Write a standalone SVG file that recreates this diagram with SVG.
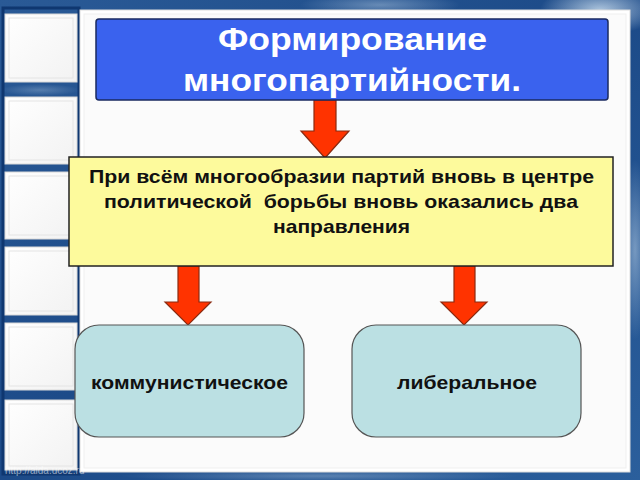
<svg xmlns="http://www.w3.org/2000/svg" width="640" height="480" viewBox="0 0 640 480">
<defs>
<linearGradient id="bg" x1="0" y1="0" x2="1" y2="1">
<stop offset="0" stop-color="#2a5a96"/>
<stop offset="0.5" stop-color="#1c4a88"/>
<stop offset="1" stop-color="#2b5f9c"/>
</linearGradient>
<radialGradient id="splash" cx="0.5" cy="0.5" r="0.5">
<stop offset="0" stop-color="#cfe2f2" stop-opacity="0.8"/>
<stop offset="1" stop-color="#cfe2f2" stop-opacity="0"/>
</radialGradient>
<linearGradient id="sq" x1="0" y1="0" x2="1" y2="1">
<stop offset="0" stop-color="#ffffff"/>
<stop offset="1" stop-color="#f2f2f2"/>
</linearGradient>
</defs>
<style>
.sq{fill:url(#sq);stroke:#d8d8d8;stroke-width:1}
.bev{fill:none;stroke:#e4e4e4;stroke-width:1}
.arrow{fill:#ff3300;stroke:#8a2a10;stroke-width:1.2}
.title{font-family:"Liberation Sans",Arial,sans-serif;font-weight:bold;font-size:31px;fill:#ffffff;text-anchor:middle}
.txt{font-family:"Liberation Sans",Arial,sans-serif;font-weight:bold;font-size:19px;fill:#111111;text-anchor:middle}
.leaf{fill:#bbe0e3;stroke:#555555;stroke-width:1.2}
</style>
<g id="background">
<rect x="0" y="0" width="640" height="480" fill="url(#bg)"/>
<ellipse cx="600" cy="10" rx="60" ry="25" fill="url(#splash)"/>
<ellipse cx="380" cy="5" rx="80" ry="12" fill="url(#splash)" opacity="0.5"/>
<ellipse cx="635" cy="250" rx="15" ry="90" fill="url(#splash)" opacity="0.6"/>
<ellipse cx="320" cy="476" rx="200" ry="6" fill="url(#splash)" opacity="0.4"/>
<ellipse cx="40" cy="90" rx="40" ry="6" fill="url(#splash)" opacity="0.35"/>
<rect x="3" y="8" width="76" height="466" fill="none" stroke="#0f3770" stroke-width="3"/>
<rect class="sq" x="5" y="14" width="72" height="68"/>
<rect class="bev" x="9" y="18" width="64" height="60"/>
<rect class="sq" x="5" y="97" width="72" height="67"/>
<rect class="bev" x="9" y="101" width="64" height="59"/>
<rect class="sq" x="5" y="172" width="72" height="67"/>
<rect class="bev" x="9" y="176" width="64" height="59"/>
<rect class="sq" x="5" y="247" width="72" height="68"/>
<rect class="bev" x="9" y="251" width="64" height="60"/>
<rect class="sq" x="5" y="323" width="72" height="67"/>
<rect class="bev" x="9" y="327" width="64" height="59"/>
<rect class="sq" x="5" y="400" width="72" height="70"/>
<rect class="bev" x="9" y="404" width="64" height="62"/>
<rect x="80" y="10" width="550" height="462" fill="#ffffff" stroke="#dcdcdc" stroke-width="1"/>
<rect x="84" y="14" width="542" height="454" fill="#fbfbfb" stroke="#efefef" stroke-width="1"/>
<text x="5" y="474" font-family="Liberation Sans,Arial,sans-serif" font-size="10" fill="#ffffff" fill-opacity="0.55">http://aida.ucoz.ru</text>
</g>
<g id="connectors">
<polygon class="arrow" points="314,100 336,100 336,131 349,131 325,158 301,131 314,131"/>
<polygon class="arrow" points="178,266 199,266 199,302 211,302 188,325 165,302 178,302"/>
<polygon class="arrow" points="454,266 475,266 475,302 487,302 464,325 441,302 454,302"/>
</g>
<g id="title">
<rect x="96" y="19" width="512" height="81" rx="3" fill="#3a62ee" stroke="#1a2a60" stroke-width="1.5"/>
<text class="title" x="352.5" y="50" textLength="269" lengthAdjust="spacingAndGlyphs">Формирование</text>
<text class="title" x="352" y="91" textLength="338" lengthAdjust="spacingAndGlyphs">многопартийности.</text>
</g>
<g id="center">
<rect x="69" y="157" width="544" height="109" fill="#fdfa9c" stroke="#222222" stroke-width="1.5"/>
<text class="txt" x="341.5" y="183" textLength="505" lengthAdjust="spacingAndGlyphs">При всём многообразии партий вновь в центре</text>
<text class="txt" x="341" y="208" textLength="474" lengthAdjust="spacingAndGlyphs" style="white-space:pre">политической  борьбы вновь оказались два</text>
<text class="txt" x="341.5" y="233" textLength="137" lengthAdjust="spacingAndGlyphs">направления</text>
</g>
<g id="communist">
<rect class="leaf" x="75" y="325" width="229" height="112" rx="24"/>
<text class="txt" x="189.5" y="389" textLength="197" lengthAdjust="spacingAndGlyphs">коммунистическое</text>
</g>
<g id="liberal">
<rect class="leaf" x="352" y="325" width="229" height="112" rx="24"/>
<text class="txt" x="467" y="389" textLength="140" lengthAdjust="spacingAndGlyphs">либеральное</text>
</g>
</svg>
